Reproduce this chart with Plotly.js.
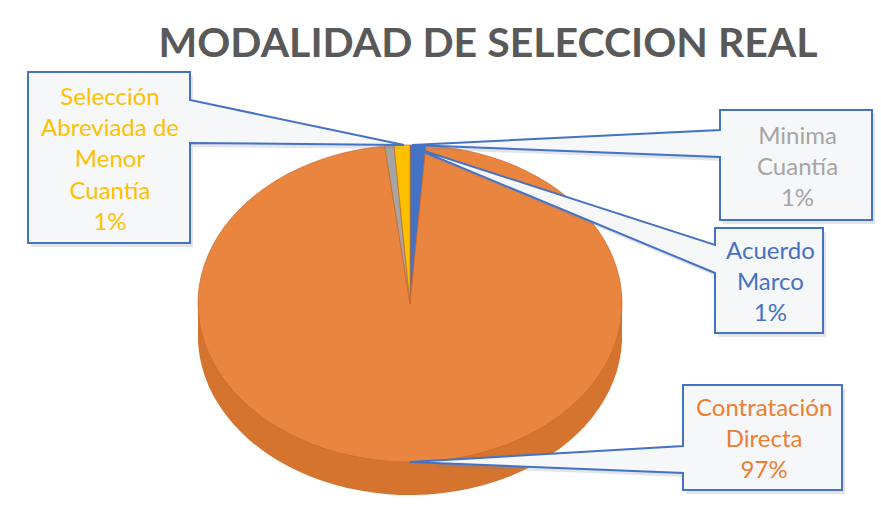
<!DOCTYPE html>
<html>
<head>
<meta charset="utf-8">
<script src="https://cdn.plot.ly/plotly-3.0.1.min.js"></script>
<style>
html,body{margin:0;padding:0;background:#fff;}
#chart{width:881px;height:520px;}
</style>
</head>
<body>
<div id="chart"></div>
<script>
// ---- data (order as in the source workbook, drawn clockwise from 12 o'clock) ----
var categories = ["Acuerdo Marco", "Contratación Directa", "Minima Cuantía", "Selección Abreviada de Menor Cuantía"];
var values = [1.2, 96.9, 0.7, 1.2];
var labelLines = ["Acuerdo<br>Marco", "Contratación<br>Directa", "Minima<br>Cuantía", "Selección<br>Abreviada de<br>Menor<br>Cuantía"];
var topColors = ["#4472C4", "#E9853F", "#A5A5A5", "#FFC000"];
var sideColors = ["#34589A", "#D5742F", "#858585", "#C99700"];
var textColors = ["#4472C4", "#ED7D31", "#A5A5A5", "#FFC000"];
var chartTitle = "MODALIDAD DE SELECCION REAL";

// ---- layout geometry (pixels) ----
var W = 881, H = 520;
var cx = 410, cy = 303.5, ry = 158.5, rx = 212, depth = 33;
function px(x){ return x / W; }
function py(y){ return 1 - y / H; }

var total = values.reduce(function(a,b){return a+b;},0);
var pctText = values.map(function(v){ return Math.round(v/total*100) + "%"; });

var traces = [];
// side layers (extrusion)
var nLayers = 8;
for (var i = nLayers; i >= 1; i--) {
  var d = depth * i / nLayers;
  traces.push({
    type: "pie", labels: categories, values: values, sort: false, direction: "clockwise",
    rotation: 0, textinfo: "none", hoverinfo: "skip", showlegend: false,
    marker: {colors: sideColors, line: {width: 0}},
    domain: {x: [px(cx - ry), px(cx + ry)], y: [py(cy + ry + d), py(cy - ry + d)]}
  });
}
// top face
traces.push({
  type: "pie", labels: categories, values: values, sort: false, direction: "clockwise",
  rotation: 0, textinfo: "none", hoverinfo: "label+percent", showlegend: false,
  marker: {colors: topColors, line: {width: 0.6, color: "#C8682A"}},
  domain: {x: [px(cx - ry), px(cx + ry)], y: [py(cy + ry), py(cy - ry)]}
});

// ---- callouts (box + pointer wedge), pixel geometry ----
var callouts = [
  {i: 3, box: [28, 72, 190, 243], side: "right", w: [100, 143], tip: [404, 145]},
  {i: 2, box: [720, 110, 872, 220], side: "left", w: [130, 157], tip: [412, 145]},
  {i: 0, box: [715, 228, 823, 333], side: "left", w: [245, 273], tip: [412, 147]},
  {i: 1, box: [683, 385, 842, 490], side: "left", w: [446, 473], tip: [410, 462]}
];

function P(x, y){ return px(x).toFixed(5) + "," + py(y).toFixed(5); }
var shapes = [], annotations = [];
callouts.forEach(function(c){
  var b = c.box, pts;
  if (c.side === "right") {
    pts = [[b[0],b[1]],[b[2],b[1]],[b[2],c.w[0]],c.tip,[b[2],c.w[1]],[b[2],b[3]],[b[0],b[3]]];
  } else {
    pts = [[b[0],b[1]],[b[2],b[1]],[b[2],b[3]],[b[0],b[3]],[b[0],c.w[1]],c.tip,[b[0],c.w[0]]];
  }
  var path = "M" + pts.map(function(p){return P(p[0],p[1]);}).join(" L") + " Z";
  var spts = pts.map(function(p){return [p[0]+3, p[1]+4];});
  var spath = "M" + spts.map(function(p){return P(p[0],p[1]);}).join(" L") + " Z";
  shapes.push({type: "path", xref: "paper", yref: "paper", path: spath,
    fillcolor: "rgba(120,130,150,0.22)", line: {width: 0}, layer: "above"});
  shapes.push({type: "path", xref: "paper", yref: "paper", path: path,
    fillcolor: "#F6F7F9", line: {color: "#4472C4", width: 2}, layer: "above"});
  annotations.push({
    xref: "paper", yref: "paper", x: px((b[0]+b[2])/2 + 1), y: py((b[1]+b[3])/2),
    xanchor: "center", yanchor: "middle", showarrow: false,
    text: labelLines[c.i] + "<br>" + pctText[c.i],
    font: {family: "Lato, 'Open Sans', sans-serif", size: 24, color: textColors[c.i]},
    align: "center"
  });
});

var layout = {
  width: W, height: H,
  margin: {l: 0, r: 0, t: 0, b: 0},
  paper_bgcolor: "#ffffff",
  title: {
    text: chartTitle, x: 0.554, xanchor: "center", y: 1 - 43/H, yanchor: "middle", yref: "container",
    font: {family: "Lato, 'Open Sans', sans-serif", size: 41, color: "#595959", weight: "bold"}
  },
  shapes: shapes,
  annotations: annotations,
  showlegend: false
};

Plotly.newPlot("chart", traces, layout, {displayModeBar: false, staticPlot: true}).then(function(gd){
  var s = rx / ry;
  var groups = gd.querySelectorAll(".pielayer g.trace");
  groups.forEach(function(g){
    g.setAttribute("transform", "translate(" + cx + ",0) scale(" + s + ",1) translate(" + (-cx) + ",0)");
  });
});
</script>
</body>
</html>
